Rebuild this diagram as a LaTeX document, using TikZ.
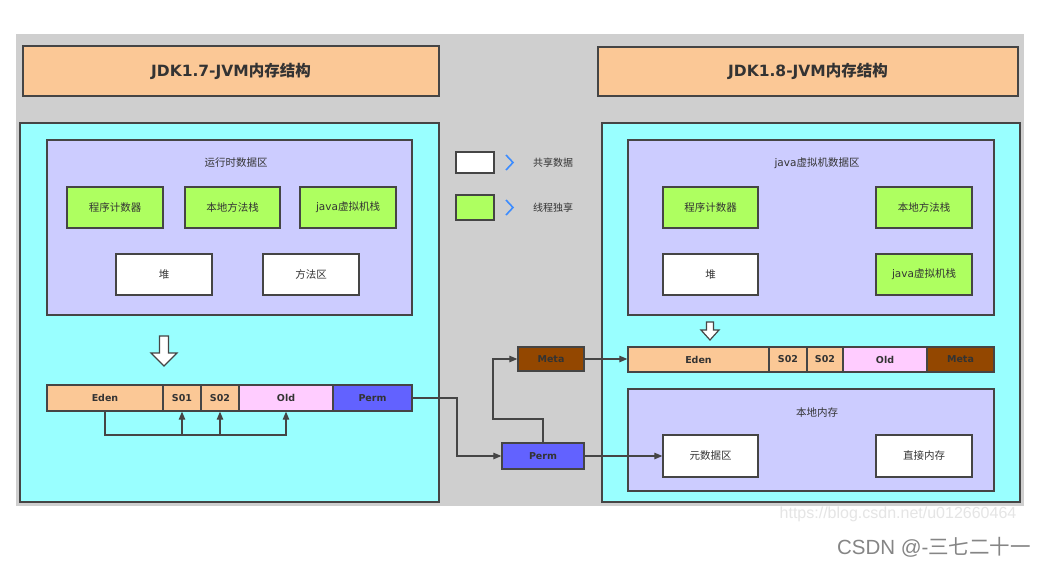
\documentclass[tikz,border=0pt]{standalone}
\usepackage{fontspec}
\setmainfont{DejaVu Sans}
\newfontfamily\cjk{Noto Sans CJK SC}
\newfontfamily\libsans{Liberation Sans}
\usetikzlibrary{arrows.meta}
\definecolor{bgg}{HTML}{CFCFCF}
\definecolor{peach}{HTML}{FBC896}
\definecolor{cyanb}{HTML}{99FFFF}
\definecolor{lav}{HTML}{CCCCFF}
\definecolor{grn}{HTML}{AEFF60}
\definecolor{pinkb}{HTML}{FFCCFF}
\definecolor{permb}{HTML}{6262FF}
\definecolor{metab}{HTML}{934700}
\definecolor{bd}{HTML}{454545}
\definecolor{tx}{HTML}{333333}
\definecolor{chev}{HTML}{3C8CFF}
\newcommand\zh[1]{{\cjk #1}}
\begin{document}
\begin{tikzpicture}[x=1pt,y=-1pt,
  box/.style={draw=bd, line width=1.3pt, inner sep=0pt, text=tx, font=\fontsize{10.5}{12}\selectfont\cjk},
  ttl/.style={box, font=\fontsize{15.5}{18}\selectfont\bfseries},
  barcell/.style={box, minimum height=26pt, font=\fontsize{9.5}{11}\selectfont\bfseries},
  lbl/.style={inner sep=0pt, text=tx, font=\fontsize{10.5}{12}\selectfont\cjk},
  arr/.style={draw=bd, line width=1.2pt, -{Triangle[length=8pt,width=6.5pt]}},
  hollow/.style={draw=bd, line width=1.2pt, fill=white, line join=miter},
  chevst/.style={draw=chev, line width=1.6pt}
]
\useasboundingbox (0,0) rectangle (1050,566);
\fill[white] (0,0) rectangle (1050,566);
\fill[bgg] (16,34) rectangle (1024,506);

% titles
\node[ttl, fill=peach, minimum width=416pt, minimum height=50pt] (t1) at (231,71) {JDK1.7-JVM\zh{内存结构}};
\node[ttl, fill=peach, minimum width=420pt, minimum height=49pt] (t2) at (808,71.5) {JDK1.8-JVM\zh{内存结构}};

% containers
\node[box, fill=cyanb, minimum width=419pt, minimum height=379pt] (c1) at (229.5,312.5) {};
\node[box, fill=cyanb, minimum width=418pt, minimum height=379pt] (c2) at (811,312.5) {};

% left runtime data area
\node[box, fill=lav, minimum width=365pt, minimum height=175pt] (l1) at (229.5,227.5) {};
\node[lbl] (l1t) at (236,163) {运行时数据区};
\node[box, fill=grn, minimum width=96pt, minimum height=41pt] (g1) at (115,207.5) {程序计数器};
\node[box, fill=grn, minimum width=95pt, minimum height=41pt] (g2) at (232.5,207.5) {本地方法栈};
\node[box, fill=grn, minimum width=96pt, minimum height=41pt] (g3) at (348,207.5) {{\rmfamily java}虚拟机栈};
\node[box, fill=white, minimum width=96pt, minimum height=41pt] (w1) at (164,274.5) {堆};
\node[box, fill=white, minimum width=96pt, minimum height=41pt] (w2) at (311,274.5) {方法区};

% hollow arrow left
\draw[hollow] (159.5,336) -- (168.5,336) -- (168.5,353) -- (177,353) -- (164,366) -- (151,353) -- (159.5,353) -- cycle;

% left heap bar
\node[barcell, fill=peach, minimum width=116pt] (eden1) at (105,398) {Eden};
\node[barcell, fill=peach, minimum width=38pt] (s01) at (182,398) {S01};
\node[barcell, fill=peach, minimum width=38pt] (s02) at (220,398) {S02};
\node[barcell, fill=pinkb, minimum width=94pt] (old1) at (286,398) {Old};
\node[barcell, fill=permb, minimum width=79pt] (perm1) at (372.5,398) {Perm};

\coordinate (bl) at (105,435);
\draw[arr] (eden1.south) -- (bl) -| (old1.south);
\draw[arr] (s01.south |- bl) -- (s01.south);
\draw[arr] (s02.south |- bl) -- (s02.south);

% legend
\node[box, fill=white, minimum width=38pt, minimum height=21pt] (lw) at (475,162.5) {};
\node[box, fill=grn, minimum width=38pt, minimum height=25pt] (lg) at (475,207.5) {};
\draw[chevst] (506,155) -- (513,162.5) -- (506,170);
\draw[chevst] (506,200) -- (513,207.5) -- (506,215);
\node[lbl, font=\fontsize{10}{12}\selectfont\cjk] (lwt) at (553,162.5) {共享数据};
\node[lbl, font=\fontsize{10}{12}\selectfont\cjk] (lgt) at (553,207.5) {线程独享};

% middle boxes
\node[barcell, fill=permb, minimum width=82pt] (pm) at (543,456) {Perm};
\node[barcell, fill=metab, minimum width=66pt, minimum height=24pt] (meta) at (551,359) {Meta};

\coordinate (pk) at (457,398);
\draw[arr] (perm1.east) -- (pk) |- (pm.west);
\coordinate (k1) at (493,419);
\draw[arr] (pm.north) |- (k1) |- (meta.west);

% right jvm data area
\node[box, fill=lav, minimum width=366pt, minimum height=175pt] (l2) at (811,227.5) {};
\node[lbl] (l2t) at (817,163) {{\rmfamily java}虚拟机数据区};
\node[box, fill=grn, minimum width=95pt, minimum height=41pt] (rg1) at (710.5,207.5) {程序计数器};
\node[box, fill=grn, minimum width=96pt, minimum height=41pt] (rg2) at (924,207.5) {本地方法栈};
\node[box, fill=white, minimum width=95pt, minimum height=41pt] (rw) at (710.5,274.5) {堆};
\node[box, fill=grn, minimum width=96pt, minimum height=41pt] (rg3) at (924,274.5) {{\rmfamily java}虚拟机栈};

% hollow arrow right
\draw[hollow] (706.5,322) -- (713.5,322) -- (713.5,330) -- (719,330) -- (710,340) -- (701,330) -- (706.5,330) -- cycle;

% right heap bar
\node[barcell, fill=peach, minimum width=141pt, minimum height=25pt] (eden2) at (698.5,359.5) {Eden};
\node[barcell, fill=peach, minimum width=38pt, minimum height=25pt] (s02a) at (788,359.5) {S02};
\node[barcell, fill=peach, minimum width=36pt, minimum height=25pt] (s02b) at (825,359.5) {S02};
\node[barcell, fill=pinkb, minimum width=84pt, minimum height=25pt] (old2) at (885,359.5) {Old};
\node[barcell, fill=metab, minimum width=67pt, minimum height=25pt] (meta2) at (960.5,359.5) {Meta};

\draw[arr] (meta.east) -- (meta.east -| eden2.west);

% native memory
\node[box, fill=lav, minimum width=366pt, minimum height=102pt] (l3) at (811,440) {};
\node[lbl] (l3t) at (817,413) {本地内存};
\node[box, fill=white, minimum width=95pt, minimum height=42pt] (yuan) at (710.5,456) {元数据区};
\node[box, fill=white, minimum width=96pt, minimum height=42pt] (zhi) at (924,456) {直接内存};

\draw[arr] (pm.east) -- (yuan.west);

% watermarks
\node[inner sep=0pt, text=black!10, font=\fontsize{16}{18}\selectfont\libsans] (wm) at (898,514) {https://blog.csdn.net/u012660464};
\node[inner sep=0pt, text=black!48, font=\fontsize{20.5}{22}\selectfont\libsans] (csdn) at (934,547) {CSDN @-\zh{三七二十一}};
\end{tikzpicture}
\end{document}
